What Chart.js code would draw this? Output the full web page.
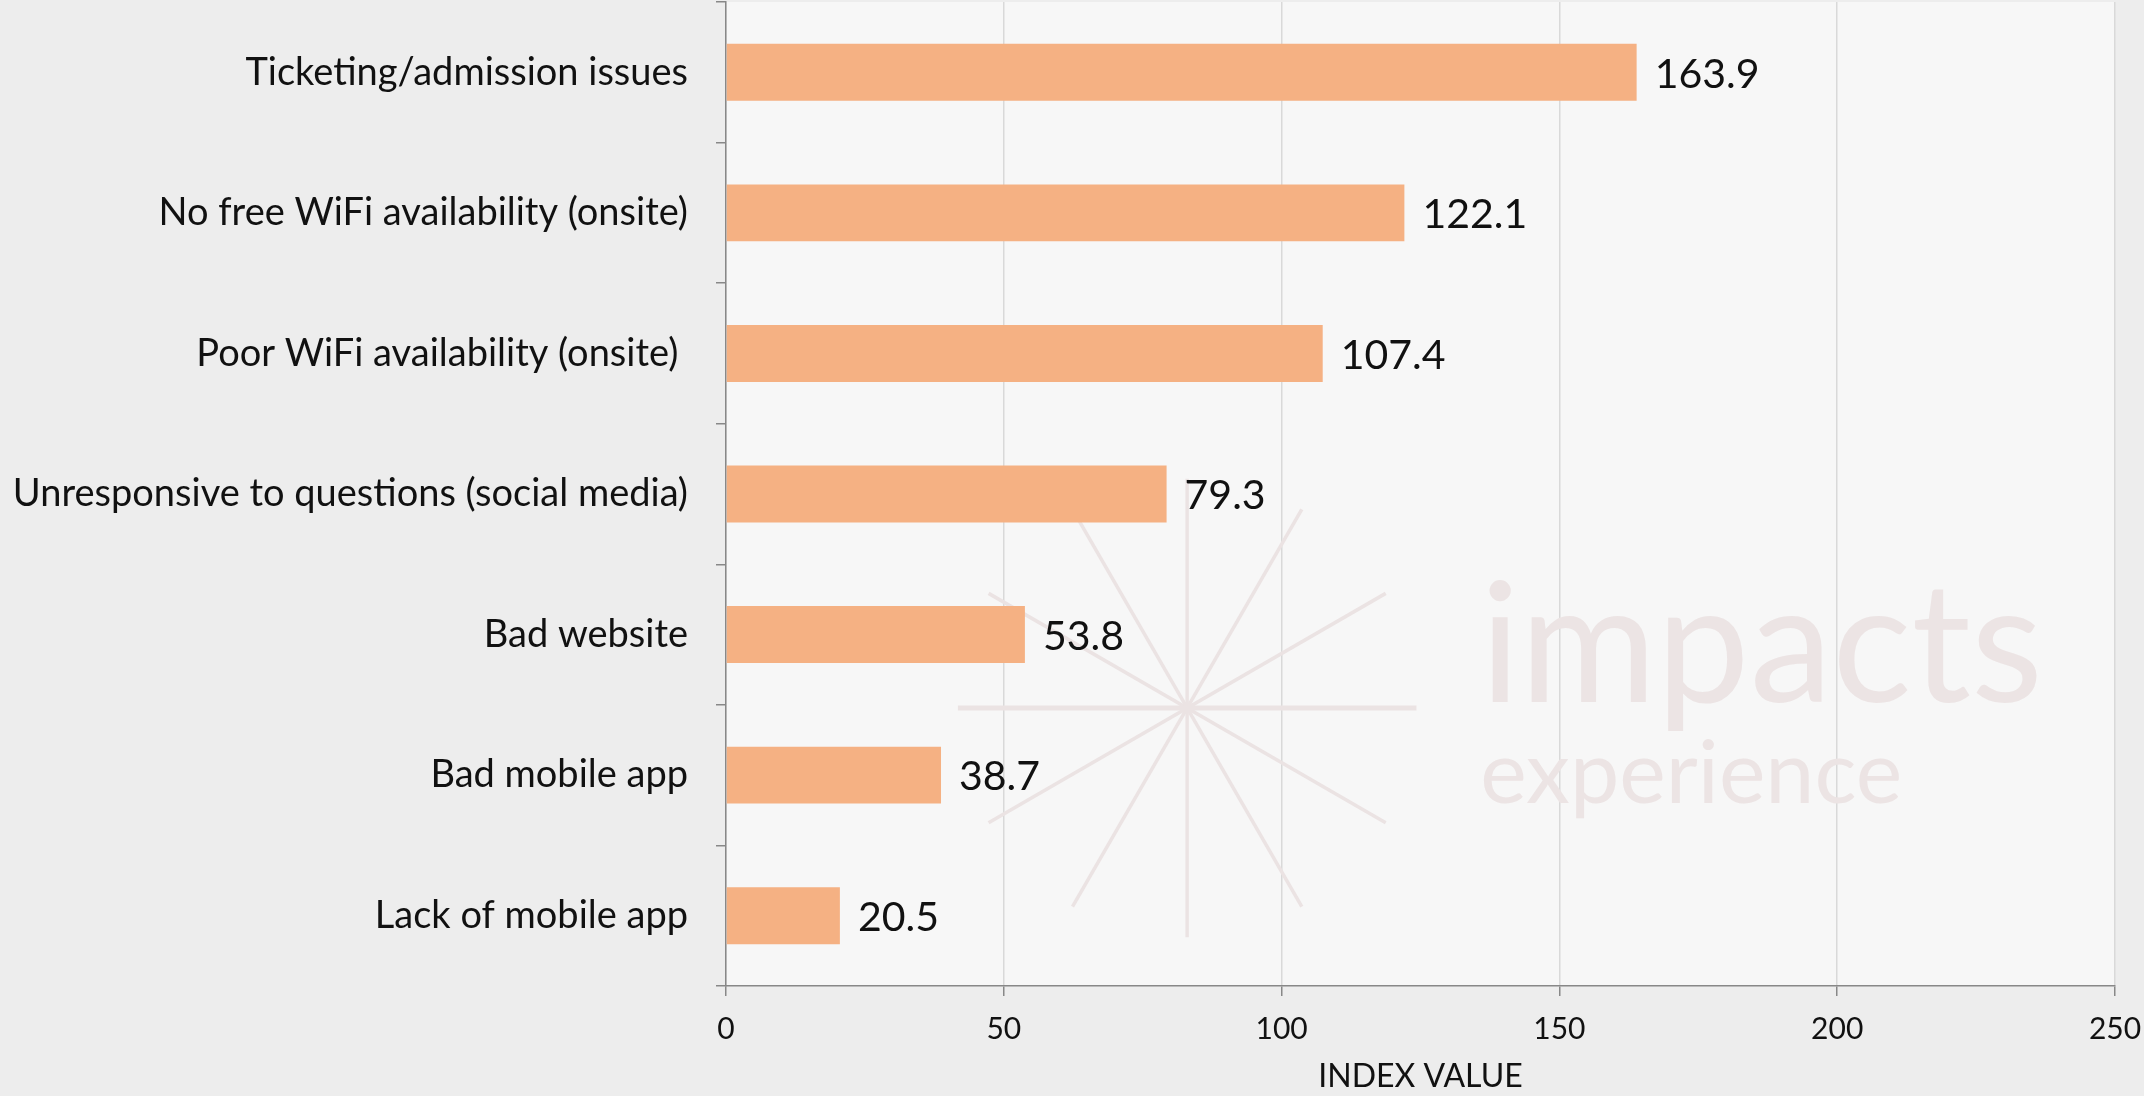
<!DOCTYPE html>
<html>
<head>
<meta charset="utf-8">
<title>Index value</title>
<script src="https://cdn.jsdelivr.net/npm/chart.js@4.4.1/dist/chart.umd.min.js"></script>
<style>
  html, body { margin: 0; padding: 0; background: #ededed; }
  #wrap { width: 2144px; height: 1096px; position: relative; }
</style>
</head>
<body>
<div id="wrap"><canvas id="indexChart"></canvas></div>
<script>
// ---- data ----
const categories = [
    'Ticketing/admission issues',
    'No free WiFi availability (onsite)',
    'Poor WiFi availability (onsite) ',
    'Unresponsive to questions (social media)',
    'Bad website',
    'Bad mobile app',
    'Lack of mobile app'
];
const indexValues = [163.9, 122.1, 107.4, 79.3, 53.8, 38.7, 20.5];
const xMin = 0;
const xMax = 250;
const xStep = 50;
const xTitle = 'INDEX VALUE';

const FONT = 'Lato, "Open Sans", sans-serif';

// light plot area behind the grid
const plotBackground = {
    id: 'plotBackground',
    beforeDraw(chart) {
        const { ctx, chartArea: a } = chart;
        ctx.save();
        ctx.fillStyle = '#f7f7f7';
        ctx.fillRect(a.left, a.top, a.right - a.left, a.bottom - a.top);
        ctx.restore();
    }
};

// faint brand mark sitting behind the bars
const watermark = {
    id: 'watermark',
    beforeDatasetsDraw(chart) {
        const { ctx, chartArea: a } = chart;
        const w = a.right - a.left, h = a.bottom - a.top;
        const cx = a.left + w * 0.332;
        const cy = a.top + h * 0.7175;
        const r = h * 0.233;
        ctx.save();
        ctx.strokeStyle = '#ebe3e3';
        for (let i = 0; i < 6; i++) {
            const ang = i * Math.PI / 6;
            ctx.lineWidth = (i === 0) ? 5 : 3.5;
            ctx.beginPath();
            ctx.moveTo(cx - Math.cos(ang) * r, cy - Math.sin(ang) * r);
            ctx.lineTo(cx + Math.cos(ang) * r, cy + Math.sin(ang) * r);
            ctx.stroke();
        }
        ctx.fillStyle = '#ece4e4';
        ctx.textAlign = 'left';
        ctx.textBaseline = 'alphabetic';
        ctx.font = '400 166px ' + FONT;
        ctx.fillText('impacts', a.left + w * 0.543, a.top + h * 0.711);
        ctx.font = '400 88px ' + FONT;
        ctx.fillText('experience', a.left + w * 0.543, a.top + h * 0.814);
        ctx.restore();
    }
};

// value printed at the end of each bar
const valueLabels = {
    id: 'valueLabels',
    afterDatasetsDraw(chart) {
        const { ctx } = chart;
        const meta = chart.getDatasetMeta(0);
        ctx.save();
        ctx.fillStyle = '#111';
        ctx.font = '41px ' + FONT;
        ctx.textAlign = 'left';
        ctx.textBaseline = 'middle';
        meta.data.forEach((bar, i) => {
            ctx.fillText(indexValues[i].toFixed(1), bar.x + 18, bar.y + 2);
        });
        ctx.restore();
    }
};

new Chart(document.getElementById('indexChart'), {
    type: 'bar',
    data: {
        labels: categories,
        datasets: [{
            label: xTitle,
            data: indexValues,
            backgroundColor: '#f5b183',
            borderWidth: 0,
            categoryPercentage: 1,
            barPercentage: 0.405
        }]
    },
    options: {
        indexAxis: 'y',
        responsive: true,
        maintainAspectRatio: false,
        animation: false,
        layout: { padding: { top: 2, right: 29, left: 0, bottom: 0 } },
        plugins: {
            legend: { display: false },
            tooltip: { enabled: false }
        },
        scales: {
            x: {
                min: xMin,
                max: xMax,
                ticks: {
                    stepSize: xStep,
                    color: '#111',
                    font: { family: FONT, size: 30 },
                    padding: 15
                },
                grid: {
                    color: '#d9d9d9',
                    lineWidth: 1.5,
                    tickLength: 10,
                    tickColor: '#888',
                    tickWidth: 1.5
                },
                border: { color: '#888', width: 1.5 },
                title: {
                    display: true,
                    text: xTitle,
                    color: '#111',
                    font: { family: FONT, size: 32 },
                    padding: { top: 0, bottom: 0 }
                },
                afterFit(scale) {
                    scale.height = 110;
                    scale.paddingLeft = 0;
                    scale.paddingRight = 0;
                }
            },
            y: {
                ticks: {
                    color: '#111',
                    font: { family: FONT, size: 38 },
                    padding: 28
                },
                grid: {
                    drawOnChartArea: false,
                    tickLength: 10,
                    color: '#888',
                    lineWidth: 1.5
                },
                border: { color: '#888', width: 1.5 },
                afterFit(scale) {
                    scale.width = 726;
                    scale.paddingTop = 0;
                    scale.paddingBottom = 0;
                }
            }
        }
    },
    plugins: [plotBackground, watermark, valueLabels]
});
</script>
</body>
</html>
